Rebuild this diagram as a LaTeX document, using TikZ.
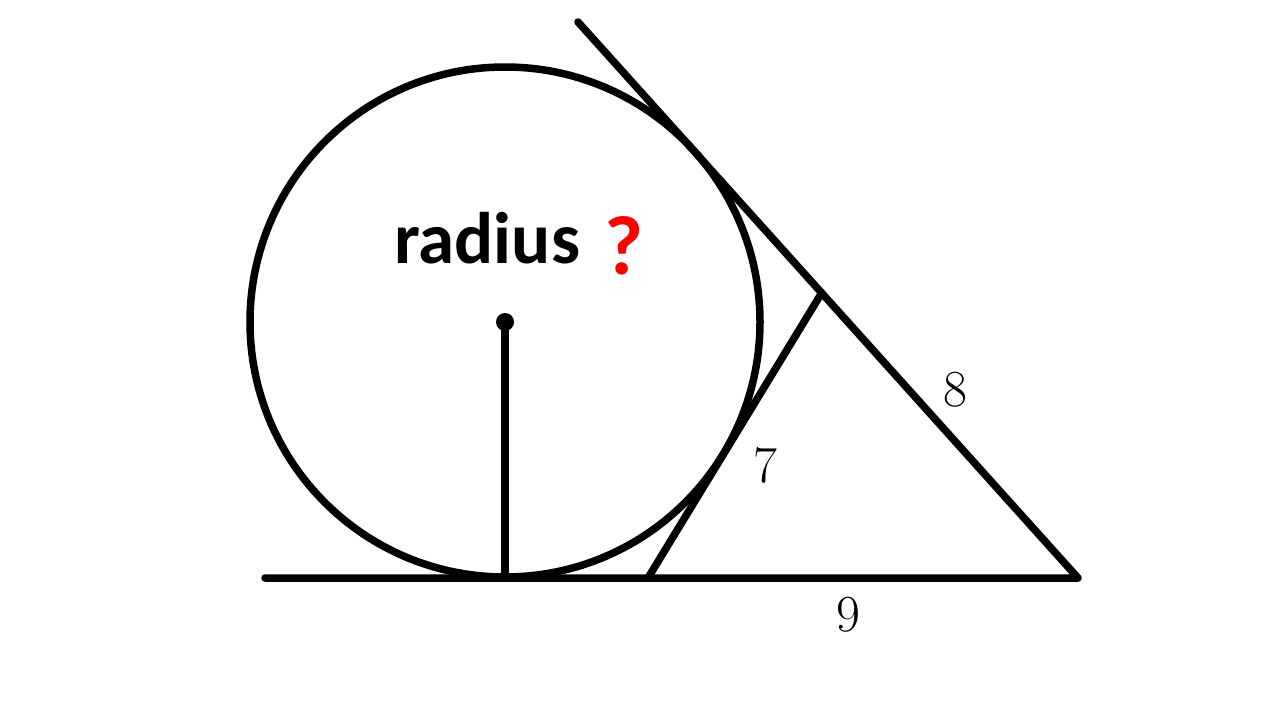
\documentclass[tikz,border=0pt]{standalone}
\usepackage{fontspec}
\newfontfamily\calib{Carlito}
\tikzset{
  geo/.style={line width=7.5pt, line cap=round, line join=round},
  num/.style={font=\fontsize{52}{60}\selectfont, inner sep=0pt},
}
\begin{document}
\begin{tikzpicture}[x=1pt,y=-1pt]
\useasboundingbox (0,0) rectangle (1280,720);
\coordinate (O) at (505,322);
\coordinate (L) at (265,578);
\coordinate (A) at (1078,578);
\coordinate (T) at (578,22);
\coordinate (B) at (648,578);
\coordinate (C) at (821,294);
\coordinate (F) at (505,578);
\draw[geo] (O) circle[radius=255];
\draw[geo] (L) -- (A) -- (T);
\draw[geo] (B) -- (C);
\draw[geo] (O) -- (F);
\fill (O) circle[radius=9];
\node[inner sep=0pt, anchor=base west] (rad) at (394,263) {\calib\bfseries\fontsize{73}{80}\selectfont radius};
\node[inner sep=0pt, anchor=base west, text=red] (q) at (604,274) {\calib\bfseries\fontsize{84}{90}\selectfont ?};
\node[num] (n8) at (955,390) {\oldstylenums{8}};
\node[num] (n7) at (765,465) {\oldstylenums{7}};
\node[num] (n9) at (848,615) {\oldstylenums{9}};
\end{tikzpicture}
\end{document}
